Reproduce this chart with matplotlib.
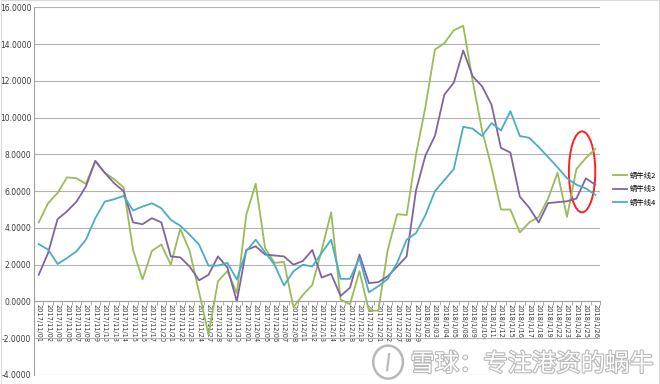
import matplotlib
matplotlib.use("Agg")
import matplotlib.pyplot as plt
import matplotlib.patheffects as pe
from matplotlib.patches import Ellipse, Rectangle
import numpy as np

# --- data ---
dates = [
    "2017/11/01", "2017/11/02", "2017/11/03", "2017/11/06", "2017/11/07", "2017/11/08",
    "2017/11/09", "2017/11/10", "2017/11/13", "2017/11/14", "2017/11/15", "2017/11/16",
    "2017/11/17", "2017/11/20", "2017/11/21", "2017/11/22", "2017/11/23", "2017/11/24",
    "2017/11/27", "2017/11/28", "2017/11/29", "2017/11/30", "2017/12/01", "2017/12/04",
    "2017/12/05", "2017/12/06", "2017/12/07", "2017/12/08", "2017/12/11", "2017/12/12",
    "2017/12/13", "2017/12/14", "2017/12/15", "2017/12/18", "2017/12/19", "2017/12/20",
    "2017/12/21", "2017/12/22", "2017/12/27", "2017/12/28", "2017/12/29", "2018/1/02",
    "2018/1/03", "2018/1/04", "2018/1/05", "2018/1/08", "2018/1/09", "2018/1/10",
    "2018/1/11", "2018/1/12", "2018/1/15", "2018/1/16", "2018/1/17", "2018/1/18",
    "2018/1/19", "2018/1/22", "2018/1/23", "2018/1/24", "2018/1/25", "2018/1/26",
]

line2 = [4.3, 5.35, 5.9, 6.75, 6.7, 6.4, 7.62, 7.0, 6.65, 6.2,
         2.8, 1.2, 2.75, 3.1, 2.0, 3.95, 2.75, 0.5, -1.8, 1.1,
         1.65, 0.45, 4.7, 6.4, 2.9, 2.1, 2.15, -0.3, 0.35, 0.9,
         2.8, 4.85, 0.1, -0.15, 1.65, -0.5, -0.5, 2.8, 4.75, 4.7,
         8.0, 10.6, 13.7, 14.05, 14.75, 15.0, 12.0, 9.3, 7.3, 5.0,
         5.0, 3.75, 4.3, 4.6, 5.6, 7.0, 4.6, 7.2, 7.8, 8.3]

line3 = [1.45, 2.65, 4.48, 4.9, 5.43, 6.25, 7.65, 7.0, 6.43, 6.0,
         4.3, 4.2, 4.53, 4.3, 2.45, 2.4, 1.9, 1.15, 1.45, 2.45,
         1.85, 0.0, 2.8, 3.0, 2.55, 2.5, 2.45, 2.0, 2.2, 2.8,
         1.3, 1.5, 0.3, 0.75, 2.55, 1.0, 1.05, 1.37, 1.9, 2.45,
         6.05, 7.95, 9.0, 11.25, 11.9, 13.65, 12.25, 11.7, 10.7, 8.35,
         8.1, 5.7, 5.1, 4.3, 5.35, 5.4, 5.45, 5.6, 6.7, 6.35]

line4 = [3.12, 2.82, 2.04, 2.36, 2.73, 3.36, 4.53, 5.43, 5.56, 5.74,
         4.95, 5.16, 5.34, 5.07, 4.44, 4.12, 3.63, 3.09, 1.95, 1.95,
         2.1, 1.2, 2.73, 3.36, 2.67, 2.0, 0.87, 1.64, 2.0, 1.9,
         2.64, 3.36, 1.23, 1.23, 2.36, 0.5, 0.83, 1.23, 2.1, 3.36,
         3.72, 4.7, 6.0, 6.6, 7.2, 9.5, 9.4, 9.0, 9.7, 9.3,
         10.35, 9.0, 8.9, 8.4, 7.85, 7.3, 6.7, 6.35, 6.15, 5.8]

names = ["蜗牛线2", "蜗牛线3", "蜗牛线4"]
colors = ["#9bbb59", "#8064a2", "#4bacc6"]
yticks = [-4, -2, 0, 2, 4, 6, 8, 10, 12, 14, 16]

cjk = ["Noto Sans CJK SC", "DejaVu Sans"]

fig = plt.figure(figsize=(6.6, 3.84), dpi=100)
ax = fig.add_axes([34 / 660, 1 - 375 / 384, 566 / 660, 367.7 / 384])

# spine first: moving it resets the ticks
ax.spines["bottom"].set_position(("data", 0))
ax.spines["bottom"].set_color("#a0a0a0")
ax.spines["left"].set_color("#a0a0a0")
ax.spines["top"].set_visible(False)
ax.spines["right"].set_visible(False)

x = np.arange(len(dates))
for vals, name, c in zip([line2, line3, line4], names, colors):
    ax.plot(x, vals, color=c, lw=1.3, label=name)

ax.set_xlim(-0.5, len(dates) - 0.5)
ax.set_ylim(-4, 16)
ax.set_yticks(yticks)
ax.set_yticklabels([f"{v:.4f}" for v in yticks], fontsize=5.5, color="#3a3a3a")
ax.yaxis.grid(True, color="#b3b3b3", lw=0.8)
ax.set_axisbelow(True)

ax.set_xticks(x)
ax.set_xticklabels(dates, rotation=-90, fontsize=4.8, color="#3a3a3a", ha="center", va="top")
ax.set_xticks(np.arange(-0.5, len(dates), 1), minor=True)
ax.tick_params(axis="x", which="major", length=0, pad=2)
ax.tick_params(axis="x", which="minor", length=3, color="#a0a0a0", width=0.6)
ax.tick_params(axis="y", length=0, pad=2)

# legend
ax.legend(loc="center left", bbox_to_anchor=(1.012, 0.505), frameon=False,
          prop={"family": cjk, "size": 5.3}, handlelength=1.8, handletextpad=0.4,
          labelspacing=0.75)

# red ellipse around the last days
ax.add_patch(Ellipse((57.6, 7.05), 2.8, 4.4, fill=False, edgecolor="#ff2020", lw=1.4,
                     clip_on=False))

# watermark
fig.text(0.622, 0.052, "雪球：专注港资的蜗牛", family=cjk, fontsize=17.5, color="white",
         ha="left", va="center",
         path_effects=[pe.withStroke(linewidth=1.6, foreground="#b8b8b8")])
fig.patches.append(Ellipse((0.588, 0.057), 0.045, 0.086, transform=fig.transFigure,
                           fill=False, edgecolor="#b8b8b8", lw=1.8))
fig.text(0.588, 0.055, "/", fontsize=15, color="#b8b8b8", ha="center", va="center",
         rotation=10, fontweight="bold")

fig.patches.append(Rectangle((0.001, 0.001), 0.998, 0.998, transform=fig.transFigure,
                             fill=False, edgecolor="#d9d9d9", lw=0.8))

fig.savefig("out.png", dpi=100)
